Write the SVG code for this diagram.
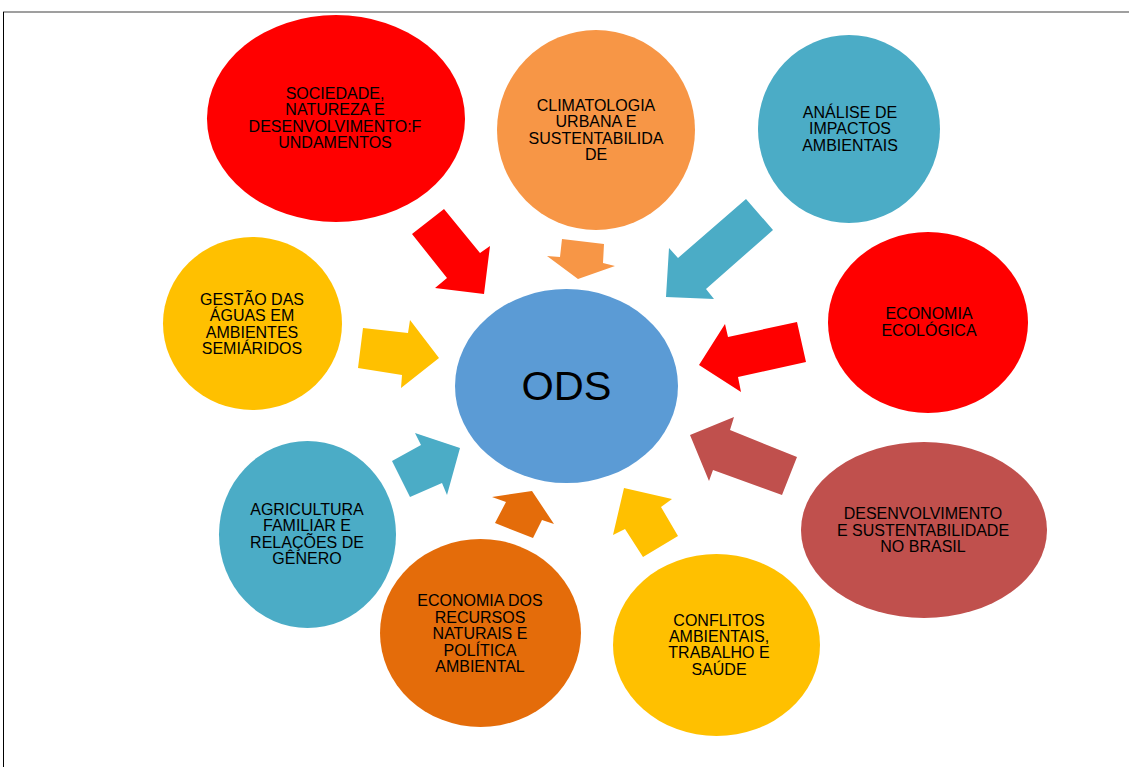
<svg xmlns="http://www.w3.org/2000/svg" width="1129" height="767" viewBox="0 0 1129 767">
<style>
.t{font-family:"Liberation Sans",Arial,sans-serif;font-size:16px;fill:#000;text-anchor:middle}
.big{font-family:"Liberation Sans",Arial,sans-serif;font-size:41.5px;fill:#000;text-anchor:middle}
.red{fill:#FF0000}.org{fill:#F79646}.teal{fill:#4BACC6}.blue{fill:#5B9BD5}
.dorg{fill:#E46C0A}.brn{fill:#C0504D}.yel{fill:#FFC000}
</style>
<rect x="0" y="0" width="1129" height="767" fill="#fff"/>
<line x1="3" y1="12" x2="1129" y2="12" stroke="#7f7f7f" stroke-width="1.6"/>
<line x1="3.5" y1="12" x2="3.5" y2="767" stroke="#000" stroke-width="1"/>
<g id="connectors">
<polygon class="red" points="444,209 412,234 447,278 435,288 484,294 490,246 480,253"/>
<polygon class="org" points="562,239 604,244 603,263 615,266 578,279 547,256 560,257"/>
<polygon class="teal" points="746,199 678,258 669,248 666,297 714,299 706,289 773,230"/>
<polygon class="red" points="797,322 728,337 725,324 699,365 741,392 738,377 806,362"/>
<polygon class="brn" points="690,435 734,417 730,430 797,457 782,495 713,470 709,481"/>
<polygon class="yel" points="624,488 672,499 661,507 678,536 643,557 625,529 613,535"/>
<polygon class="dorg" points="532,491 554,524 542,520 533,538 495,523 506,502 492,497"/>
<polygon class="teal" points="460,448 415,433 421,445 392,461 410,497 442,483 447,495"/>
<polygon class="yel" points="363,328 408,333 410,320 439,358 401,388 402,375 358,368"/>
</g>
<g id="ods">
<ellipse class="blue" cx="566.5" cy="386" rx="111.5" ry="97"/>
<text class="big" x="566.5" y="400">ODS</text>
</g>
<g id="sociedade">
<ellipse class="red" cx="336" cy="118.5" rx="129" ry="103.5"/>
<text class="t" x="335"><tspan x="335" y="99">SOCIEDADE,</tspan><tspan x="335" y="115.3">NATUREZA E</tspan><tspan x="335" y="131.6">DESENVOLVIMENTO:F</tspan><tspan x="335" y="148">UNDAMENTOS</tspan></text>
</g>
<g id="climatologia">
<ellipse class="org" cx="596" cy="130" rx="99" ry="100"/>
<text class="t" x="596"><tspan x="596" y="111">CLIMATOLOGIA</tspan><tspan x="596" y="127.3">URBANA E</tspan><tspan x="596" y="143.6">SUSTENTABILIDA</tspan><tspan x="596" y="160">DE</tspan></text>
</g>
<g id="analise">
<ellipse class="teal" cx="849" cy="129" rx="91" ry="94"/>
<text class="t" x="850"><tspan x="850" y="118">ANÁLISE DE</tspan><tspan x="850" y="134.3">IMPACTOS</tspan><tspan x="850" y="150.6">AMBIENTAIS</tspan></text>
</g>
<g id="economia-ecologica">
<ellipse class="red" cx="928" cy="322.5" rx="100" ry="90.5"/>
<text class="t" x="929"><tspan x="929" y="319">ECONOMIA</tspan><tspan x="929" y="335.5">ECOLÓGICA</tspan></text>
</g>
<g id="desenvolvimento-brasil">
<ellipse class="brn" cx="924" cy="530" rx="123" ry="88"/>
<text class="t" x="923"><tspan x="923" y="519">DESENVOLVIMENTO</tspan><tspan x="923" y="535.7">E SUSTENTABILIDADE</tspan><tspan x="923" y="552.4">NO BRASIL</tspan></text>
</g>
<g id="conflitos">
<ellipse class="yel" cx="716.5" cy="645" rx="103.5" ry="91"/>
<text class="t" x="719"><tspan x="719" y="626">CONFLITOS</tspan><tspan x="719" y="642.2">AMBIENTAIS,</tspan><tspan x="719" y="658.4">TRABALHO E</tspan><tspan x="719" y="674.6">SAÚDE</tspan></text>
</g>
<g id="economia-recursos">
<ellipse class="dorg" cx="480.5" cy="633" rx="100.5" ry="94"/>
<text class="t" x="480"><tspan x="480" y="606">ECONOMIA DOS</tspan><tspan x="480" y="622.5">RECURSOS</tspan><tspan x="480" y="639">NATURAIS E</tspan><tspan x="480" y="655.5">POLÍTICA</tspan><tspan x="480" y="672">AMBIENTAL</tspan></text>
</g>
<g id="agricultura">
<ellipse class="teal" cx="307.5" cy="534.5" rx="88.5" ry="93.5"/>
<text class="t" x="307"><tspan x="307" y="515">AGRICULTURA</tspan><tspan x="307" y="531.3">FAMILIAR E</tspan><tspan x="307" y="547.6">RELAÇÕES DE</tspan><tspan x="307" y="564">GÊNERO</tspan></text>
</g>
<g id="gestao">
<ellipse class="yel" cx="252.5" cy="323.5" rx="89.5" ry="86.5"/>
<text class="t" x="252"><tspan x="252" y="305">GESTÃO DAS</tspan><tspan x="252" y="321.3">ÁGUAS EM</tspan><tspan x="252" y="337.6">AMBIENTES</tspan><tspan x="252" y="354">SEMIÁRIDOS</tspan></text>
</g>
</svg>
